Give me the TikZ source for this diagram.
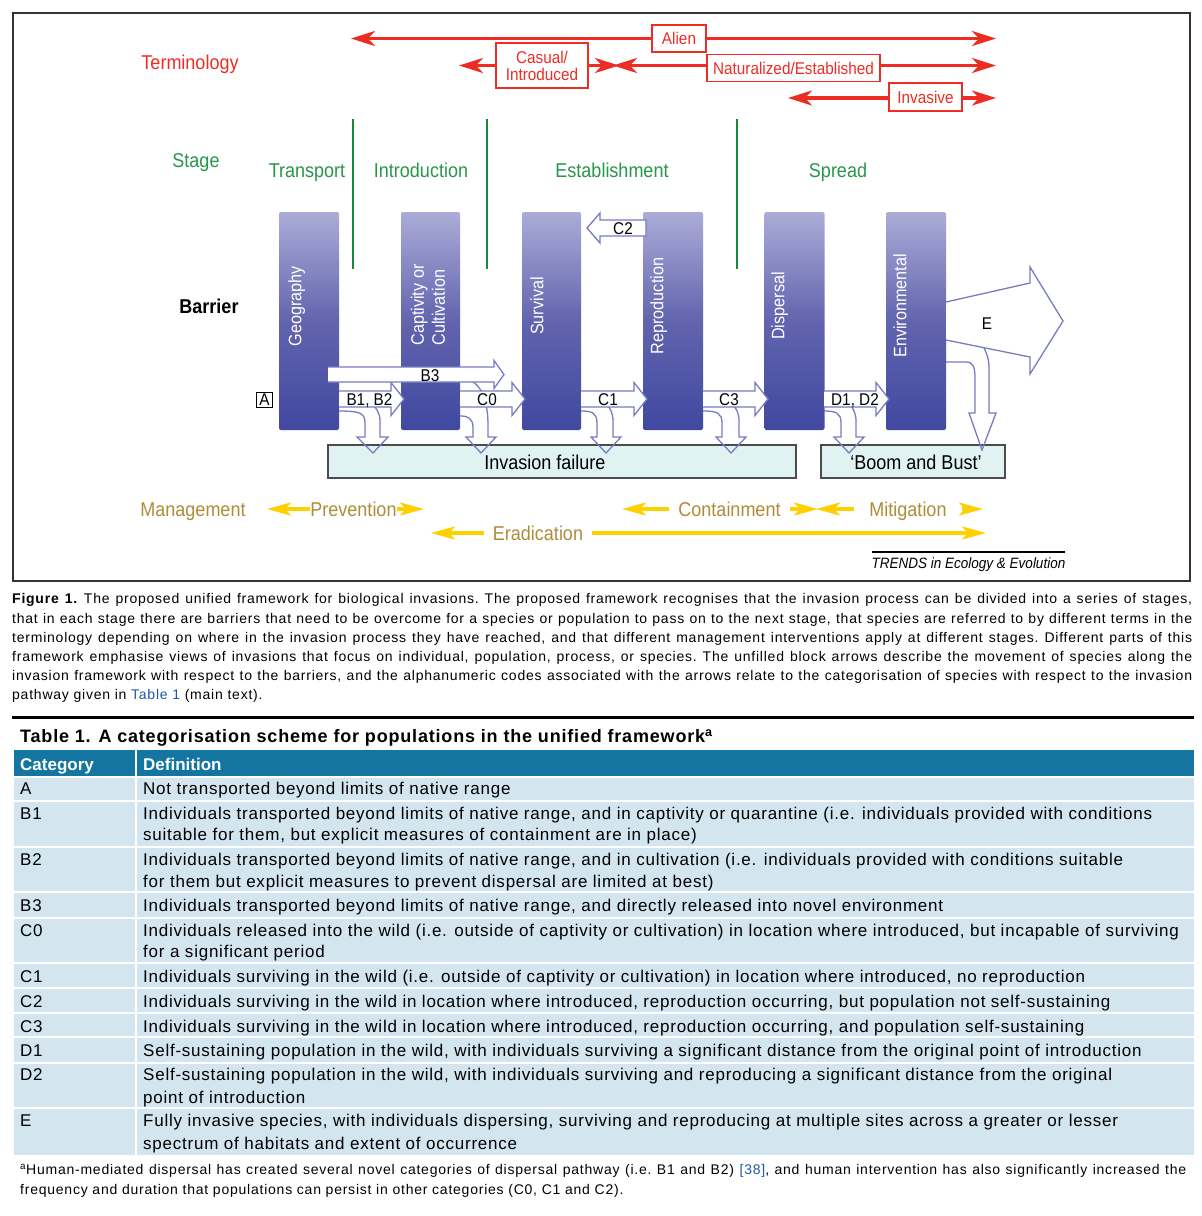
\documentclass[tikz,border=0pt]{standalone}
\usepackage{fontspec}
\setmainfont{Liberation Sans}
\newfontfamily\dfont[FakeStretch=0.9]{Liberation Sans}
\newfontfamily\capfont[LetterSpace=5.5]{Liberation Sans}
\newfontfamily\tabfont[LetterSpace=4.5]{Liberation Sans}
\usetikzlibrary{arrows.meta}

\definecolor{termred}{RGB}{237,45,36}
\definecolor{stagegreen}{RGB}{40,150,75}
\definecolor{linegreen}{RGB}{25,135,60}
\definecolor{mgold}{RGB}{176,140,58}
\definecolor{myellow}{RGB}{255,208,0}
\definecolor{bartop}{RGB}{172,172,216}
\definecolor{barmid}{RGB}{98,100,174}
\definecolor{barbot}{RGB}{64,72,160}
\definecolor{blkline}{RGB}{120,124,192}
\definecolor{boxfill}{RGB}{225,242,242}
\definecolor{hdrblue}{RGB}{20,117,160}
\definecolor{rowblue}{RGB}{211,229,239}
\definecolor{linkblue}{RGB}{30,90,165}

% horizontal block arrow: xstart, xtip, ycenter, body half, head half, head length
\newcommand{\harr}[6]{%
  \draw[blk] (#1,#3-#4) -- (#2-#6,#3-#4) -- (#2-#6,#3-#5) -- (#2,#3) -- (#2-#6,#3+#5) -- (#2-#6,#3+#4) -- (#1,#3+#4);}
% falling block arrow: xr, ys, outer, head left, tip, head right, inner, top x, top y
\newcommand{\farr}[9]{%
  \draw[blk, fill=none] (#1,#2) .. controls (#3-5,#2) and (#3,#2+2) .. (#3,#2+12) -- (#3,437) -- (#4,437) -- (#5,453) -- (#6,437) -- (#7,437) -- (#7,#2+10) .. controls (#7,#9+8) and (#8+3,#9+3) .. (#8,#9);}

\begin{document}
\begin{tikzpicture}[x=1pt,y=-1pt,
  txt/.style={inner sep=0pt, text depth=0pt},
  dtxt/.style={txt, text height=14.4pt, font=\dfont\fontsize{20}{24}\selectfont},
  termbox/.style={draw=termred, line width=1.5pt, fill=white, text=termred, font=\dfont\fontsize{17}{17}\selectfont, inner sep=0pt, minimum height=27pt, align=center},
  termarrow/.style={draw=termred, line width=3.5pt, -{Stealth[length=24pt,width=15pt,inset=7pt]}},
  marrow/.style={draw=myellow, line width=3.5pt, -{Stealth[length=24pt,width=13pt,inset=6pt]}},
  mtxt/.style={dtxt, text=mgold},
  bar/.style={minimum width=60pt, minimum height=218pt, inner sep=0pt, rounded corners=2pt, top color=bartop, bottom color=barbot, middle color=barmid},
  bartxt/.style={txt, text height=12.96pt, rotate=90, text=white, font=\dfont\fontsize{18}{21}\selectfont},
  blk/.style={draw=blkline, line width=1.3pt, fill=white, line join=miter},
  albl/.style={txt, text height=12.24pt, font=\dfont\fontsize{17}{20}\selectfont},
  fbox/.style={draw=black!70, line width=1.3pt, fill=boxfill, inner sep=0pt},
  ttxt/.style={txt, text height=12.24pt, anchor=west, font=\tabfont\fontsize{17}{20}\selectfont},
  htxt/.style={txt, text height=12.24pt, anchor=west, text=white, font=\bfseries\fontsize{17}{20}\selectfont}
]
\useasboundingbox (0,0) rectangle (1202,1216);
\fill[white] (0,0) rectangle (1202,1216);

% figure frame
\draw[black!80, line width=1.2pt] (13,13) rectangle (1190,581);

% ---------------- Terminology ----------------
\node[dtxt, text=termred] (term) at (190,62) {Terminology};
\coordinate (alienL) at (351,38.5);
\coordinate (alienR) at (996,38.5);
\node[termbox, minimum width=54pt] (alien) at (679,38.5) {Alien};
\draw[termarrow] (alien.west) -- (alienL);
\draw[termarrow] (alien.east) -- (alienR);

\coordinate (casL) at (459,65.5);
\coordinate (casR) at (619,65.5);
\coordinate (natL) at (613,65.5);
\coordinate (natR) at (996,65.5);
\node[termbox, minimum width=92pt, minimum height=45pt] (casual) at (542,65.5) {Casual/\\Introduced};
\node[termbox, minimum width=173pt] (natur) at (793.5,68) {Naturalized/Established};
\draw[termarrow] (casual.west) -- (casL);
\draw[termarrow] (casual.east) -- (casR);
\draw[termarrow] (natur.west |- natL) -- (natL);
\draw[termarrow] (natur.east |- natR) -- (natR);

\coordinate (invL) at (788,98);
\coordinate (invR) at (996,98);
\node[termbox, minimum width=73pt, minimum height=28pt] (invas) at (925.5,97) {Invasive};
\draw[termarrow] (invas.west |- invL) -- (invL);
\draw[termarrow] (invas.east |- invR) -- (invR);
\node[termbox, minimum width=173pt] at (793.5,68) {Naturalized/Established};

% ---------------- Stage ----------------
\node[dtxt, text=stagegreen] (stage) at (196,160) {Stage};
\node[dtxt, text=stagegreen] (transport) at (307,170) {Transport};
\node[dtxt, text=stagegreen] (intro) at (421,170) {Introduction};
\node[dtxt, text=stagegreen] (estab) at (612,170) {Establishment};
\node[dtxt, text=stagegreen] (spread) at (838,170) {Spread};
\draw[linegreen, line width=1.8pt] (353,119) -- (353,269);
\draw[linegreen, line width=1.8pt] (487,119) -- (487,269);
\draw[linegreen, line width=1.8pt] (737,119) -- (737,269);

% ---------------- Barriers ----------------
\node[dtxt, font=\dfont\bfseries\fontsize{20}{24}\selectfont] (barrier) at (209,306) {Barrier};

\node[bar] (geo) at (309,321) {};
\node[bar, minimum width=59pt] (capt) at (430.5,321) {};
\node[bar, minimum width=59pt] (surv) at (551.5,321) {};
\node[bar] (repro) at (673,321) {};
\node[bar] (disp) at (794.5,321) {};
\node[bar] (env) at (916,321) {};

\node[bartxt] (geoT) at (295,306) {Geography};
\node[rotate=90, inner sep=0pt, align=left, text=white, font=\dfont\fontsize{18}{21}\selectfont] (captT) at (428,305) {Captivity or\\Cultivation};
\node[bartxt] (survT) at (537,306) {Survival};
\node[bartxt] (reproT) at (657,306) {Reproduction};
\node[bartxt] (dispT) at (778,306) {Dispersal};
\node[bartxt] (envT) at (900,306) {Environmental};

% bottom boxes
\node[fbox, minimum width=468pt, minimum height=33pt] (failbox) at (562,461.5) {};
\node[dtxt] (failT) at (545,462) {Invasion failure};
\node[fbox, minimum width=184pt, minimum height=33pt] (boombox) at (913,461.5) {};
\node[dtxt] (boomT) at (916,462) {‘Boom and Bust’};

% falling arrows
\farr{339}{411}{365}{357}{373}{388}{380}{373}{405}
\farr{460}{416}{473}{466}{481}{496}{488}{472}{381}
\farr{581}{411}{597}{591}{606}{621}{613}{607}{405}
\farr{703}{411}{722}{716}{731}{746}{739}{733}{405}
\farr{824}{411}{841}{834}{849}{864}{856}{850}{405}
\draw[blk, fill=none] (946,362) -- (966,362) .. controls (973,362) and (975,367) .. (975,378) -- (975,413) -- (969,413) -- (982,450) -- (996,413) -- (989,413) -- (989,368) .. controls (989,358) and (986,352) .. (984,348);

% E arrow
\draw[blk] (946,302) -- (1030,283) -- (1030,267) -- (1063,321) -- (1030,374) -- (1030,357) -- (946,340);
\node[albl] (eT) at (987,323) {E};

% horizontal arrows
\harr{339}{404}{399}{8}{16.5}{13}
\harr{460}{525}{399}{8}{16.5}{13}
\harr{328}{504}{374.5}{7.5}{14}{10}
\harr{581}{647}{399}{8}{16.5}{13}
\harr{703}{768}{399}{8}{16.5}{13}
\harr{824}{889}{399}{8}{16.5}{13}
\draw[blk] (646,220) -- (600,220) -- (600,213) -- (587,228) -- (600,243) -- (600,236) -- (646,236) -- cycle;

\node[albl] (b12T) at (369.5,399) {B1, B2};
\node[albl] (b3T) at (430,375) {B3};
\node[albl] (c0T) at (487,399) {C0};
\node[albl] (c1T) at (608,399) {C1};
\node[albl] (c3T) at (729,399) {C3};
\node[albl] (d12T) at (855,399) {D1, D2};
\node[albl] (c2T) at (623,228) {C2};
\node[draw=black, line width=1pt, inner sep=0pt, minimum width=16pt, minimum height=15pt, font=\dfont\fontsize{17}{20}\selectfont] (aT) at (264.5,400) {A};

% ---------------- Management ----------------
\node[mtxt] (mgmt) at (193,509) {Management};
\node[mtxt] (prev) at (353.5,509) {Prevention};
\coordinate (prevL) at (267,509);
\coordinate (prevR) at (424,509);
\draw[marrow] (prev.west) -- (prevL);
\draw[marrow] (prev.east) -- (prevR);

\node[mtxt, inner xsep=9pt] (cont) at (729.5,509) {Containment};
\coordinate (contL) at (622,509);
\coordinate (contR) at (818,509);
\draw[marrow] (cont.west) -- (contL);
\draw[marrow] (cont.east) -- (contR);

\node[mtxt, inner xsep=15pt] (mitig) at (908,509) {Mitigation};
\coordinate (mitL) at (816,509);
\coordinate (mitR) at (983,509);
\draw[marrow] (mitig.west) -- (mitL);
\draw[marrow] (mitig.east) -- (mitR);

\node[mtxt, inner xsep=9pt] (erad) at (538,533) {Eradication};
\coordinate (eradL) at (431,533);
\coordinate (eradR) at (986,533);
\draw[marrow] (erad.west) -- (eradL);
\draw[marrow] (erad.east) -- (eradR);

\draw[black, line width=1.5pt] (872,552) -- (1065,552);
\node[txt, text height=10.8pt, font=\dfont\itshape\fontsize{15}{18}\selectfont] (trends) at (968.5,563) {TRENDS in Ecology \& Evolution};

% ---------------- Caption ----------------
\node[anchor=north west, inner sep=0pt, text width=1180pt, align=justify, font=\capfont\fontsize{14}{19.2}\selectfont\frenchspacing] (caption) at (12,593.5) {\textbf{Figure 1.} The proposed unified framework for biological invasions. The proposed framework recognises that the invasion process can be divided into a series of stages,\linebreak that in each stage there are barriers that need to be overcome for a species or population to pass on to the next stage, that species are referred to by different terms in the\linebreak terminology depending on where in the invasion process they have reached, and that different management interventions apply at different stages. Different parts of this\linebreak framework emphasise views of invasions that focus on individual, population, process, or species. The unfilled block arrows describe the movement of species along the\linebreak invasion framework with respect to the barriers, and the alphanumeric codes associated with the arrows relate to the categorisation of species with respect to the invasion\linebreak pathway given in \textcolor{linkblue}{Table 1} (main text).};

% ---------------- Table ----------------
\fill[black] (12,715.5) rectangle (1194,719);
\node[txt, text height=12.96pt, anchor=west, font=\tabfont\bfseries\fontsize{18}{20}\selectfont] (ttitle) at (20,736) {Table 1. A categorisation scheme for populations in the unified framework\textsuperscript{a}};
\fill[hdrblue] (14,750) rectangle (1194,777);
\fill[rowblue] (14,777) rectangle (1194,1155);
\foreach \yy in {777,801,847,892,918,963,988,1013,1037,1063,1108}
  \draw[white, line width=2pt] (14,\yy) -- (1194,\yy);
\draw[white, line width=2.5pt] (136,750) -- (136,1155);
\node[htxt] (hcat) at (20,764) {Category};
\node[htxt] (hdef) at (143,764) {Definition};

\node[ttxt] (cA) at (20,788) {A};
\node[ttxt] (dA) at (143,788) {Not transported beyond limits of native range};
\node[ttxt] (cB1) at (20,813) {B1};
\node[ttxt] (dB1a) at (143,813) {Individuals transported beyond limits of native range, and in captivity or quarantine (i.e. individuals provided with conditions};
\node[ttxt] (dB1b) at (143,834) {suitable for them, but explicit measures of containment are in place)};
\node[ttxt] (cB2) at (20,859) {B2};
\node[ttxt] (dB2a) at (143,859) {Individuals transported beyond limits of native range, and in cultivation (i.e. individuals provided with conditions suitable};
\node[ttxt] (dB2b) at (143,881) {for them but explicit measures to prevent dispersal are limited at best)};
\node[ttxt] (cB3) at (20,905) {B3};
\node[ttxt] (dB3) at (143,905) {Individuals transported beyond limits of native range, and directly released into novel environment};
\node[ttxt] (cC0) at (20,930) {C0};
\node[ttxt] (dC0a) at (143,930) {Individuals released into the wild (i.e. outside of captivity or cultivation) in location where introduced, but incapable of surviving};
\node[ttxt] (dC0b) at (143,951) {for a significant period};
\node[ttxt] (cC1) at (20,976) {C1};
\node[ttxt] (dC1) at (143,976) {Individuals surviving in the wild (i.e. outside of captivity or cultivation) in location where introduced, no reproduction};
\node[ttxt] (cC2) at (20,1001) {C2};
\node[ttxt] (dC2) at (143,1001) {Individuals surviving in the wild in location where introduced, reproduction occurring, but population not self-sustaining};
\node[ttxt] (cC3) at (20,1026) {C3};
\node[ttxt] (dC3) at (143,1026) {Individuals surviving in the wild in location where introduced, reproduction occurring, and population self-sustaining};
\node[ttxt] (cD1) at (20,1050) {D1};
\node[ttxt] (dD1) at (143,1050) {Self-sustaining population in the wild, with individuals surviving a significant distance from the original point of introduction};
\node[ttxt] (cD2) at (20,1074) {D2};
\node[ttxt] (dD2a) at (143,1074) {Self-sustaining population in the wild, with individuals surviving and reproducing a significant distance from the original};
\node[ttxt] (dD2b) at (143,1097) {point of introduction};
\node[ttxt] (cE) at (20,1120) {E};
\node[ttxt] (dEa) at (143,1120) {Fully invasive species, with individuals dispersing, surviving and reproducing at multiple sites across a greater or lesser};
\node[ttxt] (dEb) at (143,1143) {spectrum of habitats and extent of occurrence};

% footnote
\node[anchor=north west, inner sep=0pt, text width=1166pt, align=justify, font=\capfont\fontsize{14}{20}\selectfont\frenchspacing] (foot) at (20,1164) {\textsuperscript{a}Human-mediated dispersal has created several novel categories of dispersal pathway (i.e. B1 and B2) \textcolor{linkblue}{[38]}, and human intervention has also significantly increased the\linebreak frequency and duration that populations can persist in other categories (C0, C1 and C2).};
\end{tikzpicture}
\end{document}
